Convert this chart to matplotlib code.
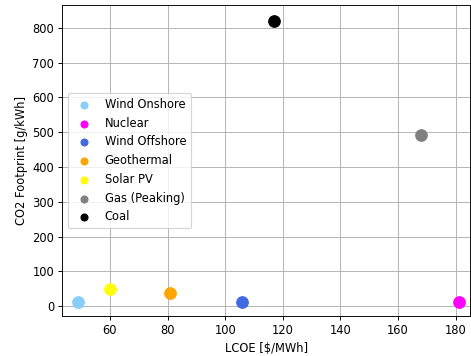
import matplotlib.pyplot as plt

# technology, LCOE [$/MWh], CO2 footprint [g/kWh], colour
techs = ["Wind Onshore", "Nuclear", "Wind Offshore", "Geothermal",
         "Solar PV", "Gas (Peaking)", "Coal"]
lcoe = [49, 181, 106, 81, 60, 168, 117]
co2 = [12, 12, 13, 38, 48, 492, 820]
colors = ["lightskyblue", "magenta", "royalblue", "orange",
          "yellow", "gray", "black"]

DPI = 83
fig = plt.figure(figsize=(471 / DPI, 356 / DPI), dpi=DPI)
ax = fig.add_axes([0.132, 0.112, 0.866, 0.874])
for name, x, y, c in zip(techs, lcoe, co2, colors):
    ax.scatter(x, y, s=100, color=c, label=name, zorder=3)

ax.set_xlim(43.4, 185)
ax.set_ylim(-29, 866)
ax.set_xlabel("LCOE [$/MWh]")
ax.set_ylabel("CO2 Footprint [g/kWh]")
ax.grid(True, color="#b0b0b0", lw=0.8)
ax.legend(loc="center left", markerscale=0.6)

fig.savefig("out.png", dpi=DPI)
